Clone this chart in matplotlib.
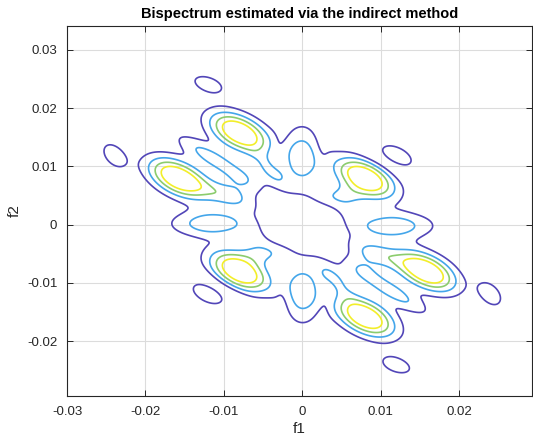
import matplotlib
matplotlib.use("Agg")
import matplotlib.pyplot as plt
import numpy as np

# axis ranges (normalised frequency)
f1_lim = (-0.030, 0.0293)
f2_lim = (-0.0294, 0.0341)

# lobes of the bispectrum magnitude (one half-plane;
# the other half follows from B(-f1,-f2) = conj(B(f1,f2)))
# order: 3 main peaks, side lobe, 2 blue ellipses, 3 small purple ellipses,
#        3 tails toward the origin, 2 fillers, 3 troughs
lobe_f1 = [-0.0158, -0.0080, 0.0080, -0.0114, -0.0114, 0.0000,
           -0.0120, -0.0240, 0.0121, -0.0098, -0.0040, 0.0046,
           -0.0078, -0.0060, 0.0106, -0.0029, 0.0024]
lobe_f2 = [0.0080, 0.0158, 0.0080, 0.0114, 0.0002, 0.0114,
           0.0241, 0.0119, 0.0119, 0.0050, 0.0092, 0.0049,
           0.0070, -0.0025, 0.0104, 0.0135, 0.0122]
lobe_amp = [5.6, 5.6, 5.6, 2.4, 2.7, 2.6,
            1.5, 1.5, 1.5, 1.7, 1.8, 1.8,
            1.3, 0.8, -0.8, -0.5, -0.5]
lobe_su = [0.0031, 0.0031, 0.0031, 0.0040, 0.0037, 0.0039,
           0.0020, 0.0021, 0.0023, 0.0030, 0.0025, 0.0022,
           0.0022, 0.0015, 0.0040, 0.0025, 0.0022]
lobe_sv = [0.0018, 0.0018, 0.0018, 0.0011, 0.00166, 0.0019,
           0.0012, 0.0012, 0.0013, 0.0012, 0.0010, 0.0014,
           0.0022, 0.0015, 0.0007, 0.0007, 0.0007]
lobe_ang = [-40, -40, -40, -40, 0, 90,
            -30, -65, -40, -28, -58, 0,
            0, 0, -40, 80, 100]

levels = [1, 2, 3, 4]
level_colors = ["#5246b8", "#44a6ea", "#8ccc6e", "#f2ee2a"]

f1 = np.linspace(f1_lim[0], f1_lim[1], 500)
f2 = np.linspace(f2_lim[0], f2_lim[1], 500)
F1, F2 = np.meshgrid(f1, f2)

lobes = list(zip(lobe_f1, lobe_f2, lobe_amp, lobe_su, lobe_sv, lobe_ang))
lobes += [(-x, -y, a, su, sv, ang) for x, y, a, su, sv, ang in lobes]

Z = np.zeros_like(F1)
for x0, y0, a, su, sv, ang in lobes:
    t = np.deg2rad(ang)
    dx, dy = F1 - x0, F2 - y0
    u = dx * np.cos(t) + dy * np.sin(t)
    v = -dx * np.sin(t) + dy * np.cos(t)
    Z += a * np.exp(-0.5 * ((u / su) ** 2 + (v / sv) ** 2))

plt.rcParams["font.family"] = ["Liberation Sans", "DejaVu Sans"]

fig = plt.figure(figsize=(5.33, 4.47), dpi=100)
ax = fig.add_axes([67 / 533, 51 / 447, 465 / 533, 370 / 447])

ax.contour(F1, F2, Z, levels=levels, colors=level_colors, linewidths=1.2)

ax.set_xlim(*f1_lim)
ax.set_ylim(*f2_lim)
ax.set_xticks([-0.03, -0.02, -0.01, 0, 0.01, 0.02])
ax.set_xticklabels(["-0.03", "-0.02", "-0.01", "0", "0.01", "0.02"])
ax.set_yticks([-0.02, -0.01, 0, 0.01, 0.02, 0.03])
ax.set_yticklabels(["-0.02", "-0.01", "0", "0.01", "0.02", "0.03"])

ax.grid(True, color="#dcdcdc", linewidth=0.8)
ax.set_axisbelow(True)
ax.tick_params(direction="in", length=4, width=0.7, colors="#262626",
               labelsize=9.5, top=True, right=True, pad=7)
for s in ax.spines.values():
    s.set_color("#262626")
    s.set_linewidth(0.8)

ax.set_xlabel("f1", fontsize=11, color="#262626", labelpad=3)
ax.set_ylabel("f2", fontsize=11, color="#262626", labelpad=4)
ax.set_title("Bispectrum estimated via the indirect method", fontsize=10.5,
             fontweight="bold", pad=6)

fig.savefig("out.png", dpi=100)
